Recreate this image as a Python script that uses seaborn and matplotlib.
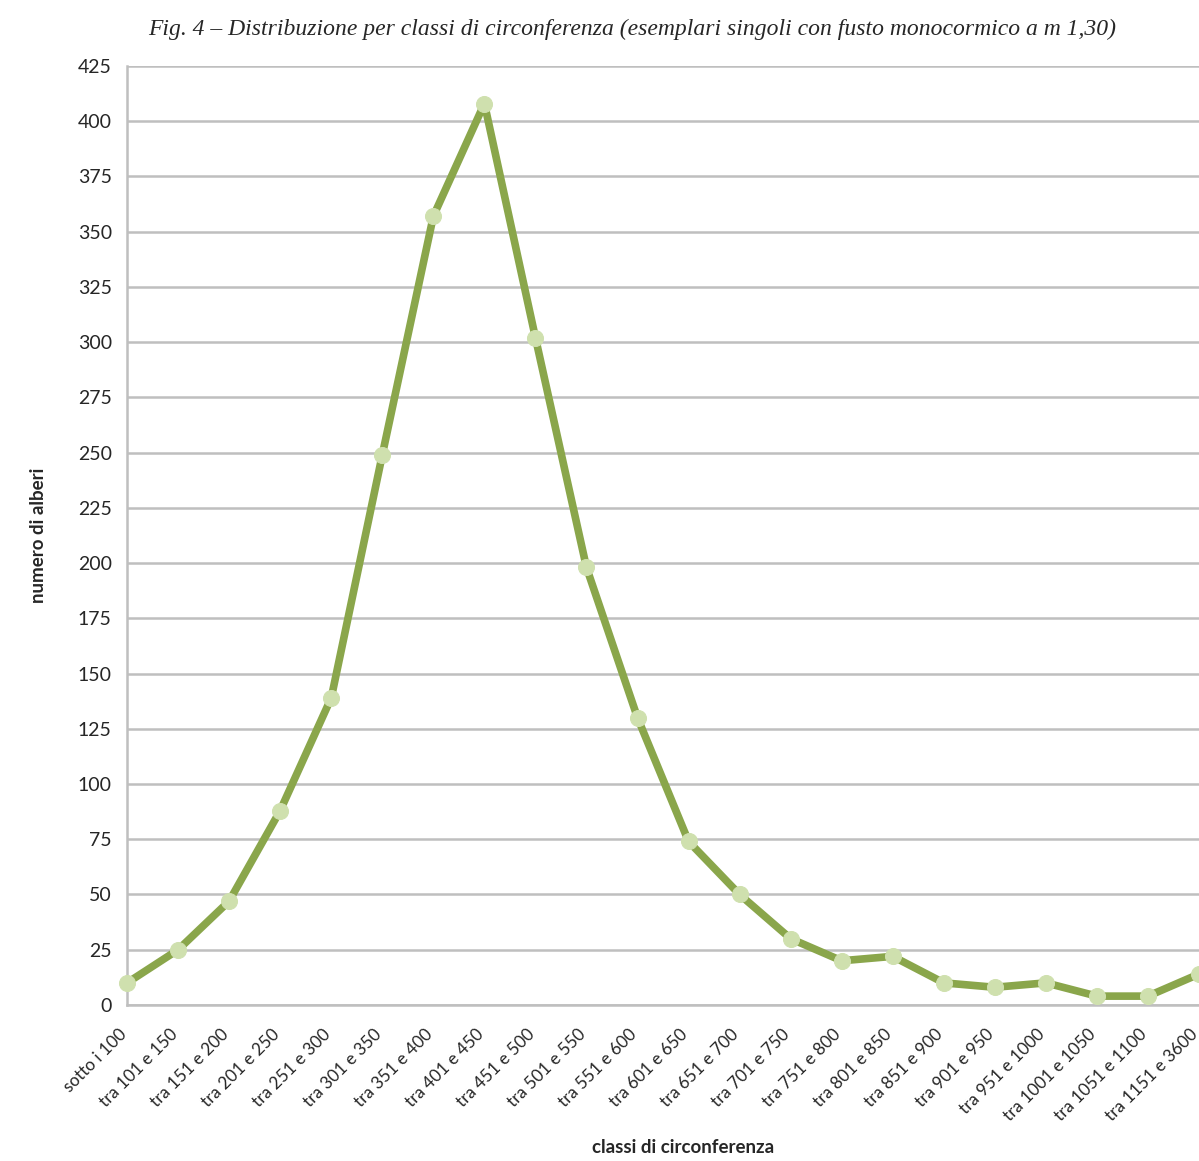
import matplotlib
matplotlib.use("Agg")
import matplotlib.pyplot as plt
import matplotlib.transforms as mtransforms
import seaborn as sns
import pandas as pd

categories = ["sotto i 100", "tra 101 e 150", "tra 151 e 200", "tra 201 e 250",
              "tra 251 e 300", "tra 301 e 350", "tra 351 e 400", "tra 401 e 450",
              "tra 451 e 500", "tra 501 e 550", "tra 551 e 600", "tra 601 e 650",
              "tra 651 e 700", "tra 701 e 750", "tra 751 e 800", "tra 801 e 850",
              "tra 851 e 900", "tra 901 e 950", "tra 951 e 1000", "tra 1001 e 1050",
              "tra 1051 e 1100", "tra 1151 e 3600"]
values = [10, 25, 47, 88, 139, 249, 357, 408, 302, 198, 130, 74, 50, 30, 20, 22,
          10, 8, 10, 4, 4, 14]
y_ticks = list(range(0, 426, 25))

title = "Fig. 4 \u2013 Distribuzione per classi di circonferenza (esemplari singoli con fusto monocormico a m 1,30)"

sns.set_style("white")
plt.rcParams['font.family'] = ['Lato', 'DejaVu Sans']

df = pd.DataFrame({"classe": categories, "alberi": values})

fig = plt.figure(figsize=(11.99, 11.61), dpi=100)
ax = fig.add_axes([0.106, 0.1344, 0.894, 0.8088])

sns.lineplot(data=df, x="classe", y="alberi", sort=False, ax=ax,
             color="#8AA64B", linewidth=5.5, marker="o", markersize=11.5,
             markerfacecolor="#CFE0AE", markeredgecolor="#CFE0AE", clip_on=False,
             zorder=3)

ax.set_xlim(0, len(categories) - 1)
ax.set_ylim(0, 425)
ax.set_yticks(y_ticks)
ax.set_xticks(range(len(categories)))
ax.tick_params(axis="y", labelsize=14, length=7, width=1.5, color="#BFBFBF", pad=4)
ax.tick_params(axis="x", length=7, width=1.5, color="#BFBFBF", pad=8)
ax.set_xticklabels(categories, rotation=45, ha="right", va="top",
                   rotation_mode="anchor", fontsize=12.3)
offset = mtransforms.ScaledTranslation(-6.5 / 72, 0, fig.dpi_scale_trans)
for tick in ax.xaxis.get_major_ticks():
    tick.label1.set_transform(tick.label1.get_transform() + offset)

ax.grid(axis="y", color="#BFBFBF", linewidth=1.8)
ax.set_axisbelow(True)
for s in ["top", "right"]:
    ax.spines[s].set_visible(False)
for s in ["left", "bottom"]:
    ax.spines[s].set_color("#BFBFBF")
    ax.spines[s].set_linewidth(1.8)

ax.set_xlabel("classi di circonferenza", fontsize=13.5, fontweight="bold")
ax.set_ylabel("numero di alberi", fontsize=13.5, fontweight="bold", labelpad=22)
ax.xaxis.set_label_coords(0.519, -0.143)

fig.text(0.527, 0.975, title, ha="center", va="center", fontsize=17,
         style="italic", family=["Liberation Serif", "DejaVu Serif"])

fig.savefig("out.png", dpi=100)
